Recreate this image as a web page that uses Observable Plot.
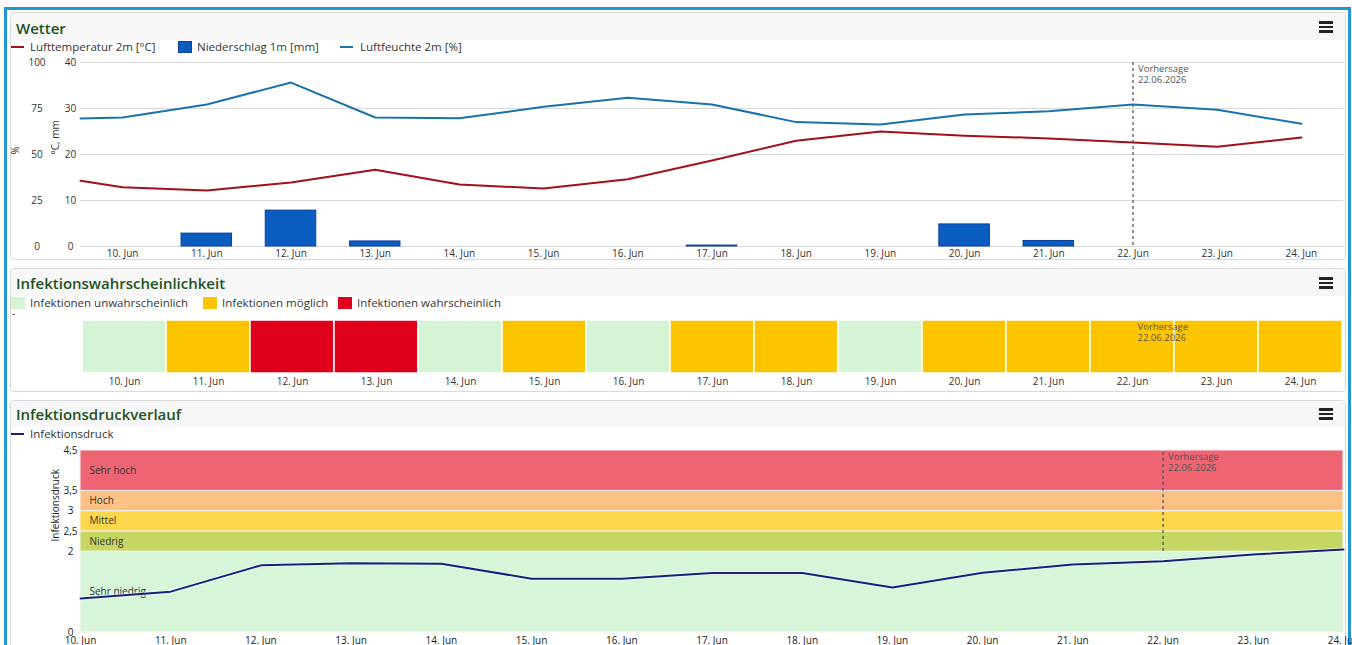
<!DOCTYPE html>
<html><head><meta charset="utf-8">
<script src="https://cdn.jsdelivr.net/npm/d3@7"></script>
<script src="https://cdn.jsdelivr.net/npm/@observablehq/plot@0.6"></script>
<style>
body{margin:0;background:#fff;font-family:"Open Sans",sans-serif;}
#page{position:relative;width:1352px;height:645px;overflow:hidden;background:#fff;}
.frame{position:absolute;left:4px;top:7px;width:1347px;height:700px;border:3px solid #2196d3;box-sizing:border-box;}
.card{position:absolute;left:10px;width:1336px;border:1px solid #d9d9d9;border-radius:4px;background:#fff;box-sizing:border-box;}
.head{position:absolute;left:11px;width:1334px;background:#f7f7f7;border-radius:4px 4px 0 0;}
.title{position:absolute;left:16px;font-size:15px;font-weight:600;color:#1e531e;line-height:20px;white-space:nowrap;}
.burger{position:absolute;left:1319px;width:14px;height:2.5px;background:#222;}
.leg{position:absolute;font-size:11.5px;color:#333;line-height:16px;white-space:nowrap;}
.sym{position:absolute;}
.plot{position:absolute;left:0;}
</style></head>
<body><div id="page">
<div class="frame"></div>

<div class="card" style="top:12px;height:248px"></div>
<div class="head" style="top:13px;height:27px"></div>
<div class="title" style="top:18px">Wetter</div>
<div class="burger" style="top:21px"></div><div class="burger" style="top:25.5px"></div><div class="burger" style="top:30px"></div>
<div class="sym" style="left:11px;top:46px;width:13px;height:2px;background:#a30f1a"></div>
<div class="leg" style="left:30px;top:39px">Lufttemperatur 2m [°C]</div>
<div class="sym" style="left:178px;top:41px;width:12px;height:10px;background:#0a5cc0;border:1px solid #0b3e9a"></div>
<div class="leg" style="left:197px;top:39px">Niederschlag 1m [mm]</div>
<div class="sym" style="left:340px;top:46px;width:13px;height:2px;background:#1a72ab"></div>
<div class="leg" style="left:360px;top:39px">Luftfeuchte 2m [%]</div>
<div id="c1" class="plot" style="top:55px"></div>
<div id="c1b" class="plot" style="top:55px"></div>

<div class="card" style="top:268px;height:124px"></div>
<div class="head" style="top:269px;height:27px"></div>
<div class="title" style="top:273px">Infektionswahrscheinlichkeit</div>
<div class="burger" style="top:277px"></div><div class="burger" style="top:281.5px"></div><div class="burger" style="top:286px"></div>
<div id="leg2"></div>
<div class="leg" style="left:12px;top:305px;font-size:10px">-</div>
<div id="c2" class="plot" style="top:314px"></div>

<div class="card" style="top:400px;height:300px"></div>
<div class="head" style="top:401px;height:26px"></div>
<div class="title" style="top:404px">Infektionsdruckverlauf</div>
<div class="burger" style="top:408px"></div><div class="burger" style="top:412.5px"></div><div class="burger" style="top:417px"></div>
<div class="sym" style="left:11px;top:433px;width:13px;height:2px;background:#13237a"></div>
<div class="leg" style="left:30px;top:426px">Infektionsdruck</div>
<div id="c3" class="plot" style="top:444px"></div>
</div>
<script>
// ---------- data ----------
const dayLabels = ["10. Jun","11. Jun","12. Jun","13. Jun","14. Jun","15. Jun","16. Jun","17. Jun","18. Jun","19. Jun","20. Jun","21. Jun","22. Jun","23. Jun","24. Jun"];
const temperatureAtStart = 14.3;
const temperature = [12.9, 12.2, 13.9, 16.7, 13.5, 12.6, 14.6, 18.7, 23.0, 25.0, 24.1, 23.5, 22.6, 21.7, 23.7];
const humidityAtStart = 69.6;
const humidity = [70.1, 77.2, 89.1, 70.1, 69.7, 75.9, 80.8, 77.2, 67.6, 66.3, 71.7, 73.5, 77.2, 74.3, 66.7];
const precipitation = [0, 2.8, 7.8, 1.1, 0, 0, 0, 0.2, 0, 0, 4.8, 1.2, 0, 0, 0];
const tempTicks = [0, 10, 20, 30, 40];
const humidityTicks = [0, 25, 50, 75, 100];

const infectionClasses = ["Infektionen unwahrscheinlich", "Infektionen möglich", "Infektionen wahrscheinlich"];
const infectionColors = ["#d5f4d6", "#fdc500", "#e0001b"];
const infectionLevel = [0, 1, 2, 2, 0, 1, 0, 1, 1, 0, 1, 1, 1, 1, 1];

const pressure = [0.84, 1.01, 1.66, 1.71, 1.70, 1.33, 1.33, 1.47, 1.47, 1.11, 1.48, 1.68, 1.76, 1.93, 2.05];
const bandNames = ["Sehr niedrig", "Niedrig", "Mittel", "Hoch", "Sehr hoch"];
const bandLower = [0, 2, 2.5, 3, 3.5];
const bandUpper = [2, 2.5, 3, 3.5, 4.5];
const bandColors = ["#d7f5d9", "#c5d663", "#fed84c", "#fdc185", "#ef6472"];
const pressureTicks = [0, 2, 2.5, 3, 3.5, 4.5];

const forecastDay = 12;
const forecastLabel = "Vorhersage\n22.06.2026";

// ---------- derived tables ----------
const idx = dayLabels.map((_, i) => i);
const tempRows = [{x: -0.5, v: temperatureAtStart}, ...temperature.map((v, i) => ({x: i, v}))];
const humRows = [{x: -0.5, v: humidityAtStart}, ...humidity.map((v, i) => ({x: i, v}))];
const precipRows = precipitation.map((v, i) => ({i, v})).filter(d => d.v > 0);
const infRows = infectionLevel.map((l, i) => ({day: dayLabels[i], cls: infectionClasses[l]}));
const pressRows = pressure.map((v, i) => ({i, v}));
const bandRows = bandNames.map((name, k) => ({name, lo: bandLower[k], hi: bandUpper[k]}));
const forecastRows = [{day: dayLabels[forecastDay], i: forecastDay, text: forecastLabel}];

const font = {fontFamily: "Open Sans", fontSize: "10px", color: "#333", background: "transparent", overflow: "visible"};
const W = 1352, ML = 80, MR = 9;

// ---------- chart 1 : temperature / precipitation ----------
const c1 = Plot.plot({
  width: W, height: 210, marginLeft: ML, marginRight: MR, marginTop: 7, marginBottom: 19,
  style: font,
  x: {domain: [-0.5, 14.5]},
  y: {domain: [0, 40]},
  marks: [
    Plot.gridY(tempTicks, {stroke: "#d9d9d9", strokeOpacity: 1}),
    Plot.rectY(precipRows, {x1: d => d.i - 0.3, x2: d => d.i + 0.3, y: "v", fill: "#0a5cc0", stroke: "#0b3e9a", strokeWidth: 1}),
    Plot.line(tempRows, {x: "x", y: "v", stroke: "#a30f1a", strokeWidth: 2}),
    Plot.ruleX(forecastRows, {x: "i", stroke: "#555", strokeWidth: 1.3, strokeDasharray: "3,3"}),
    Plot.text(forecastRows, {x: "i", text: "text", frameAnchor: "top", textAnchor: "start", lineAnchor: "top", dx: 5, dy: 1, lineHeight: 1.2, fill: "#555", fontSize: 9.5}),
    Plot.axisX(idx, {tickSize: 0, tickPadding: 3, tickFormat: i => dayLabels[i], fill: "#333", label: null}),
    Plot.axisY(tempTicks, {tickSize: 0, tickPadding: 10, textAnchor: "middle", label: null, fill: "#333"}),
    Plot.text(["°C, mm"], {frameAnchor: "left", rotate: -90, dx: -25, fill: "#333", fontSize: 10})
  ]
});
document.getElementById("c1").appendChild(c1);

// ---------- chart 1b : humidity (own scale) ----------
const c1b = Plot.plot({
  width: W, height: 210, marginLeft: ML, marginRight: MR, marginTop: 7, marginBottom: 19,
  style: font,
  x: {domain: [-0.5, 14.5], axis: null},
  y: {domain: [0, 100], axis: null},
  marks: [
    Plot.line(humRows, {x: "x", y: "v", stroke: "#1a72ab", strokeWidth: 2}),
    Plot.axisY(humidityTicks, {tickSize: 0, tickPadding: 43.5, textAnchor: "middle", label: null, fill: "#333"}),
    Plot.text(["%"], {frameAnchor: "left", rotate: -90, dx: -65, fill: "#333", fontSize: 10})
  ]
});
document.getElementById("c1b").appendChild(c1b);

// ---------- legend 2 ----------
const leg2 = document.getElementById("leg2");
const leg2Left = [11, 203, 338];
infectionClasses.forEach((name, k) => {
  const s = document.createElement("div");
  s.className = "sym";
  s.style.cssText = `left:${leg2Left[k]}px;top:297px;width:14px;height:12px;background:${infectionColors[k]}`;
  leg2.appendChild(s);
  const t = document.createElement("div");
  t.className = "leg";
  t.style.cssText = `left:${leg2Left[k] + 19}px;top:295px`;
  t.textContent = name;
  leg2.appendChild(t);
});

// ---------- chart 2 : infection probability ----------
const c2 = Plot.plot({
  width: W, height: 80, marginLeft: ML, marginRight: MR, marginTop: 6, marginBottom: 21,
  style: font,
  x: {type: "band", domain: dayLabels, padding: 0},
  color: {domain: infectionClasses, range: infectionColors},
  marks: [
    Plot.cell(infRows, {x: "day", fill: "cls", stroke: "white", strokeWidth: 1.5}),
    Plot.text(forecastRows, {x: "day", text: "text", frameAnchor: "top", textAnchor: "start", lineAnchor: "top", dx: 5, dy: 1, lineHeight: 1.2, fill: "#555", fontSize: 9.5}),
    Plot.axisX({tickSize: 0, tickPadding: 4, fill: "#333", label: null})
  ]
});
document.getElementById("c2").appendChild(c2);

// ---------- chart 3 : infection pressure ----------
const c3 = Plot.plot({
  width: W, height: 210, marginLeft: ML, marginRight: MR, marginTop: 6, marginBottom: 22,
  style: font,
  x: {domain: [0, 14]},
  y: {domain: [0, 4.5]},
  color: {domain: bandNames, range: bandColors},
  marks: [
    Plot.rectY(bandRows, {y1: "lo", y2: "hi", fill: "name", stroke: "#f4f4f4", strokeWidth: 1}),
    Plot.text(bandRows, {y: d => (d.lo + d.hi) / 2, text: "name", frameAnchor: "left", textAnchor: "start", dx: 9, fill: "#333", fontSize: 10}),
    Plot.ruleX(forecastRows, {x: "i", y1: bandLower[1], y2: bandUpper[4], stroke: "#555", strokeWidth: 1.3, strokeDasharray: "3,3"}),
    Plot.text(forecastRows, {x: "i", text: "text", frameAnchor: "top", textAnchor: "start", lineAnchor: "top", dx: 5, dy: 1, lineHeight: 1.2, fill: "#555", fontSize: 9.5}),
    Plot.line(pressRows, {x: "i", y: "v", stroke: "white", strokeWidth: 4, strokeOpacity: 0.6}),
    Plot.line(pressRows, {x: "i", y: "v", stroke: "#13237a", strokeWidth: 2}),
    Plot.axisY(pressureTicks, {tickSize: 0, tickPadding: 10, textAnchor: "middle", label: null, fill: "#222", tickFormat: d => String(d).replace(".", ",")}),
    Plot.axisX(idx, {tickSize: 0, tickPadding: 4, tickFormat: i => dayLabels[i], fill: "#222", label: null}),
    Plot.text(["Infektionsdruck"], {frameAnchor: "left", rotate: -90, dx: -25, fill: "#222", fontSize: 10})
  ]
});
document.getElementById("c3").appendChild(c3);
</script>
</body></html>
